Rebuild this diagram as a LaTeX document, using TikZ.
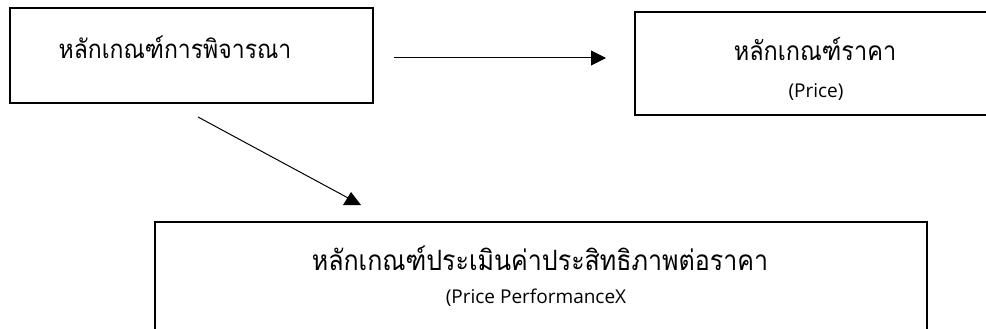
\documentclass[tikz,border=0pt]{standalone}
\usepackage{fontspec}
\newfontfamily\thaifont[Script=Thai]{Loma}
\newfontfamily\latfont{Open Sans}
\usetikzlibrary{arrows.meta}
\newcommand{\tallthai}[1]{\scalebox{1}[1.12]{#1}}
\tikzset{
  box/.style={draw, line width=1.6pt, inner sep=0pt},
  conn/.style={line width=1pt},
  arr/.style={conn, -{Triangle[length=15pt,width=15pt]}},
  thai/.style={font=\thaifont, inner sep=0pt, anchor=base},
  lat/.style={font=\latfont\fontsize{19}{22}\selectfont, inner sep=0pt, anchor=base},
}
\begin{document}
\begin{tikzpicture}[x=1pt,y=-1pt]
\useasboundingbox (0,0) rectangle (986,329);
\node[box, minimum width=363pt, minimum height=95pt] (b1) at (191.5,55.5) {};
\node[box, minimum width=355pt, minimum height=103pt] (b2) at (812.5,63.5) {};
\node[box, minimum width=772pt, minimum height=138pt] (b3) at (541,291) {};
\node[thai, font=\thaifont\fontsize{23}{26}\selectfont] (t1) at (175,59) {\tallthai{หลักเกณฑ์การพิจารณา}};
\node[thai, font=\thaifont\fontsize{23.5}{26}\selectfont] (t2) at (815,61) {\tallthai{หลักเกณฑ์ราคา}};
\node[lat] (t2b) at (816,98) {(Price)};
\node[thai, font=\thaifont\fontsize{25}{28}\selectfont] (t3) at (540,270) {\tallthai{หลักเกณฑ์ประเมินค่าประสิทธิภาพต่อราคา}};
\node[lat] (t3b) at (536,303) {(Price PerformanceX};
\coordinate (a1s) at (394,58);
\coordinate (a1e) at (606,58);
\coordinate (a2s) at (198,117);
\coordinate (a2e) at (350,199);
\draw[arr] (a1s) -- (a1e);
\draw[conn] (a2s) -- (a2e);
\fill (a2e) ++(1,-7) -- ++(10,13) -- ++(-18,0) -- cycle;
\end{tikzpicture}
\end{document}
